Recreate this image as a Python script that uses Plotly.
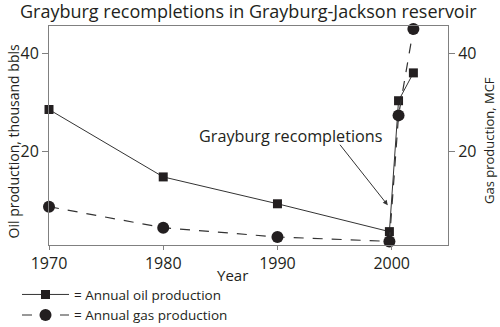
import plotly.graph_objects as go

oil_years = [1970, 1980, 1990, 1999.8, 2000.6, 2001.9]
oil_values = [28.5, 14.7, 9.2, 3.5, 30.3, 36.0]
gas_years = [1970, 1980, 1990, 1999.8, 2000.6, 2001.9]
gas_values = [8.6, 4.3, 2.4, 1.5, 27.3, 45.0]

x_ticks = [1970, 1980, 1990, 2000]
y_ticks = [20, 40]

title_text = "Grayburg recompletions in Grayburg-Jackson reservoir"
oil_label = "= Annual oil production"
gas_label = "= Annual gas production"
note_text = "Grayburg recompletions"

INK = "#231f20"
AX = "#808080"
FONT = "Open Sans"

fig = go.Figure()
fig.add_trace(go.Scatter(
    x=oil_years, y=oil_values, name=oil_label, mode="lines+markers",
    line=dict(color="#333333", width=1),
    marker=dict(symbol="square", size=9, color=INK),
    yaxis="y", cliponaxis=False,
))
fig.add_trace(go.Scatter(
    x=gas_years, y=gas_values, name=gas_label, mode="lines+markers",
    line=dict(color="#333333", width=1.2, dash="10px,9px"),
    marker=dict(symbol="circle", size=12, color=INK),
    yaxis="y2", cliponaxis=False,
))

axis_common = dict(showgrid=False, zeroline=False, showline=True, linecolor=AX,
                   linewidth=1, ticks="outside", tickcolor=AX,
                   tickfont=dict(family=FONT, size=16, color=INK))

fig.update_layout(
    width=500, height=327,
    margin=dict(l=49, r=52, t=26, b=82, autoexpand=False),
    paper_bgcolor="white", plot_bgcolor="white",
    font=dict(family=FONT, color=INK),
    showlegend=True,
    legend=dict(x=-0.0802, y=-0.156, xanchor="left", yanchor="top",
                font=dict(family=FONT, size=13.5, color=INK),
                itemwidth=47, tracegroupgap=0, bgcolor="rgba(0,0,0,0)"),
    xaxis=dict(range=[1970, 2004.93], tickvals=x_ticks, mirror=True, ticklen=4, **axis_common),
    yaxis=dict(range=[0.76, 45.6], tickvals=y_ticks, ticklen=6, **axis_common),
    yaxis2=dict(range=[0.76, 45.6], tickvals=y_ticks, overlaying="y", side="right",
                ticklen=6, **axis_common),
    annotations=[
        dict(text=title_text, x=0.5, xref="paper", xanchor="center",
             y=1.069, yref="paper", yanchor="middle", showarrow=False,
             font=dict(family=FONT, size=18, color=INK)),
        dict(text="Year", x=0.46, xref="paper", xanchor="center", y=-0.137, yref="paper",
             yanchor="middle", showarrow=False, font=dict(family=FONT, size=15, color=INK)),
        dict(text="Oil production, thousand bbls", textangle=-90, x=-0.089, xref="paper",
             xanchor="center", y=0.475, yref="paper", yanchor="middle", showarrow=False,
             font=dict(family=FONT, size=14, color=INK)),
        dict(text="Gas production, MCF", textangle=-90, x=1.1028, xref="paper",
             xanchor="center", y=0.475, yref="paper", yanchor="middle", showarrow=False,
             font=dict(family=FONT, size=13, color=INK)),
        dict(text=note_text, x=1991.1, y=23.0, xref="x", yref="y",
             xanchor="center", yanchor="middle", showarrow=False,
             font=dict(family=FONT, size=16.2, color=INK)),
        dict(text="", x=1999.66, y=8.9, xref="x", yref="y", showarrow=True,
             ax=-49, ay=-62, arrowhead=2, arrowsize=1, arrowwidth=1, arrowcolor="#333333"),
    ],
)
fig.write_html("out.html")
